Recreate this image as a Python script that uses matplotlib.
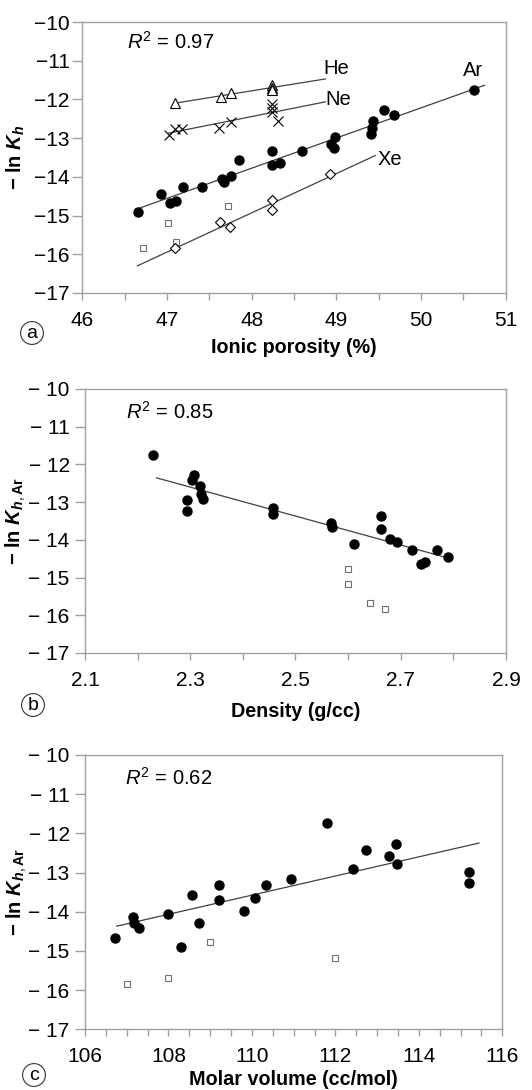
import numpy as np
import matplotlib
matplotlib.use("Agg")
import matplotlib.pyplot as plt

plt.rcParams['font.family'] = ['Liberation Sans', 'DejaVu Sans']
plt.rcParams['mathtext.fontset'] = 'custom'
plt.rcParams['mathtext.rm'] = 'Liberation Sans'
plt.rcParams['mathtext.it'] = 'Liberation Sans:italic'
plt.rcParams['mathtext.bf'] = 'Liberation Sans:bold'
plt.rcParams['mathtext.bfit'] = 'Liberation Sans:italic:bold'

# ---------------- Panel a data: ionic porosity (%) vs -ln Kh ----------------
ar_por = [46.66, 46.93, 47.04, 47.11, 47.19, 47.41, 47.65, 47.67, 47.76, 47.85,
          48.24, 48.24, 48.33, 48.59, 48.94, 48.97, 48.98, 49.41, 49.42, 49.43,
          49.56, 49.68, 50.63]
ar_lnk = [-14.90, -14.43, -14.67, -14.62, -14.25, -14.25, -14.06, -14.14, -13.98, -13.57,
          -13.33, -13.70, -13.64, -13.33, -13.15, -13.26, -12.96, -12.89, -12.75, -12.56,
          -12.27, -12.39, -11.76]
he_por = [47.10, 47.64, 47.76, 48.24, 48.24, 48.24]
he_lnk = [-12.08, -11.95, -11.84, -11.62, -11.70, -11.75]
ne_por = [47.02, 47.10, 47.18, 47.62, 47.76, 48.24, 48.24, 48.24, 48.31]
ne_lnk = [-12.91, -12.76, -12.76, -12.73, -12.59, -12.13, -12.23, -12.32, -12.55]
xe_por = [47.10, 47.63, 47.75, 48.24, 48.24, 48.93]
xe_lnk = [-15.83, -15.17, -15.30, -14.60, -14.86, -13.93]
sq_por = [46.72, 47.01, 47.11, 47.72]
sq_lnk = [-15.84, -15.19, -15.67, -14.74]

# ---------------- Panel b data: density (g/cc) vs -ln Kh,Ar ----------------
ar_den = [2.230, 2.308, 2.303, 2.318, 2.320, 2.325, 2.293, 2.293, 2.458, 2.457,
          2.567, 2.570, 2.662, 2.662, 2.612, 2.680, 2.692, 2.722, 2.768, 2.790,
          2.738, 2.746]
ar_lnk_b = [-11.75, -12.29, -12.40, -12.58, -12.78, -12.92, -12.95, -13.24, -13.15, -13.32,
            -13.56, -13.67, -13.36, -13.70, -14.10, -13.99, -14.07, -14.28, -14.28, -14.45,
            -14.65, -14.60]
sq_den = [2.600, 2.600, 2.641, 2.670]
sq_lnk_b = [-14.78, -15.18, -15.68, -15.84]

# ---------------- Panel c data: molar volume (cc/mol) vs -ln Kh,Ar ----------------
ar_mv = [106.72, 107.14, 107.18, 107.29, 108.00, 108.30, 108.56, 108.72, 109.20, 109.20,
         109.81, 110.07, 110.33, 110.93, 111.79, 112.73, 112.43, 113.29, 113.45, 113.48,
         115.20, 115.20]
ar_lnk_c = [-14.66, -14.13, -14.30, -14.42, -14.06, -14.90, -13.58, -14.30, -13.33, -13.70,
            -13.98, -13.66, -13.33, -13.17, -11.74, -12.42, -12.90, -12.59, -12.26, -12.79,
            -12.99, -13.27]
sq_mv = [107.0, 108.0, 109.0, 112.0]
sq_lnk_c = [-15.85, -15.70, -14.77, -15.18]

yticks = [-10, -11, -12, -13, -14, -15, -16, -17]
ytick_labels_a = ['\u221210', '\u221211', '\u221212', '\u221213', '\u221214', '\u221215', '\u221216', '\u221217']
ytick_labels_bc = ['\u2212 10', '\u2212 11', '\u2212 12', '\u2212 13', '\u2212 14', '\u2212 15', '\u2212 16', '\u2212 17']

W, H = 532, 1090
fig = plt.figure(figsize=(W / 100, H / 100), dpi=100)

def axes_px(l, r, t, b):
    return fig.add_axes([l / W, 1 - b / H, (r - l) / W, (b - t) / H])

ax_a = axes_px(82.3, 505.7, 22, 293)
ax_b = axes_px(85, 506, 389, 653)
ax_c = axes_px(85, 502.3, 755, 1029.3)

SPINE = '#a0a0a0'
LINE = '#404040'
TXT = 14.5

def style(ax, xlim, xmajor, xminor, ylabels, ypad):
    ax.set_xlim(*xlim)
    ax.set_ylim(-17, -10)
    ax.set_xticks(xmajor)
    ax.set_xticks(xminor, minor=True)
    ax.set_yticks(yticks)
    ax.set_yticklabels(ylabels)
    for s in ax.spines.values():
        s.set_color(SPINE)
        s.set_linewidth(1.0)
    ax.tick_params(axis='x', which='both', direction='out', length=5, width=1,
                   color=SPINE, labelsize=15, pad=8)
    ax.tick_params(axis='y', which='major', direction='out', length=7, width=1,
                   color=SPINE, labelsize=15, pad=ypad)
    ax.tick_params(axis='x', which='minor', labelbottom=False)

def fit_line(ax, x, y, x0, x1):
    k, c = np.polyfit(x, y, 1)
    xs = np.array([x0, x1])
    ax.plot(xs, k * xs + c, color=LINE, lw=0.9, zorder=1)

# ---- Panel a ----
style(ax_a, (46, 51), [46, 47, 48, 49, 50, 51], np.arange(46, 51.01, 0.5), ytick_labels_a, 2)
fit_line(ax_a, he_por, he_lnk, 47.08, 48.87)
fit_line(ax_a, ne_por, ne_lnk, 47.02, 48.87)
fit_line(ax_a, ar_por, ar_lnk, 46.66, 50.75)
fit_line(ax_a, xe_por, xe_lnk, 46.65, 49.46)
ax_a.plot(ar_por, ar_lnk, 'o', ms=6.5, color='black', zorder=3)
ax_a.plot(he_por, he_lnk, '^', ms=7.5, mfc='white', mec='black', mew=0.8, zorder=3)
ax_a.plot(ne_por, ne_lnk, 'x', ms=7.5, color='black', mew=0.8, zorder=3)
ax_a.plot(xe_por, xe_lnk, 'D', ms=5.5, mfc='white', mec='black', mew=0.8, zorder=3)
ax_a.plot(sq_por, sq_lnk, 's', ms=4.5, mfc='white', mec='#707070', mew=0.8, zorder=2)
for lbl, x, y in [('He', 48.85, -11.19), ('Ne', 48.87, -11.99), ('Ar', 50.50, -11.24), ('Xe', 49.49, -13.54)]:
    ax_a.text(x, y, lbl, fontsize=TXT, ha='left', va='center')
ax_a.text(0.106, 0.926, r'$R^2$ = 0.97', transform=ax_a.transAxes, fontsize=TXT, ha='left', va='center')
ax_a.set_xlabel('Ionic porosity (%)', fontsize=14.2, fontweight='bold')
ax_a.xaxis.set_label_coords(0.5, -0.165)
ax_a.set_ylabel('\u2212 ln ' + r'$\mathbfit{K}_{\mathbfit{h}}$', fontsize=14.5, fontweight='bold')
ax_a.yaxis.set_label_coords(-0.13, 0.5)

# ---- Panel b ----
style(ax_b, (2.1, 2.9), [2.1, 2.3, 2.5, 2.7, 2.9], np.arange(2.1, 2.901, 0.1), ytick_labels_bc, 4)
fit_line(ax_b, ar_den, ar_lnk_b, 2.236, 2.781)
ax_b.plot(ar_den, ar_lnk_b, 'o', ms=6.5, color='black', zorder=3)
ax_b.plot(sq_den, sq_lnk_b, 's', ms=4.5, mfc='white', mec='#707070', mew=0.8, zorder=2)
ax_b.text(0.097, 0.914, r'$R^2$ = 0.85', transform=ax_b.transAxes, fontsize=TXT, ha='left', va='center')
ax_b.set_xlabel('Density (g/cc)', fontsize=14.2, fontweight='bold')
ax_b.xaxis.set_label_coords(0.5, -0.185)
ax_b.set_ylabel('\u2212 ln ' + r'$\mathbfit{K}_{\mathbfit{h},\mathbf{Ar}}$', fontsize=14.5, fontweight='bold')
ax_b.yaxis.set_label_coords(-0.135, 0.5)

# ---- Panel c ----
style(ax_c, (106, 116), [106, 108, 110, 112, 114, 116], np.arange(106, 116.01, 0.5), ytick_labels_bc, 4)
fit_line(ax_c, ar_mv, ar_lnk_c, 106.76, 115.44)
ax_c.plot(ar_mv, ar_lnk_c, 'o', ms=6.5, color='black', zorder=3)
ax_c.plot(sq_mv, sq_lnk_c, 's', ms=4.5, mfc='white', mec='#707070', mew=0.8, zorder=2)
ax_c.text(0.096, 0.915, r'$R^2$ = 0.62', transform=ax_c.transAxes, fontsize=TXT, ha='left', va='center')
ax_c.set_xlabel('Molar volume (cc/mol)', fontsize=14.2, fontweight='bold')
ax_c.xaxis.set_label_coords(0.5, -0.148)
ax_c.set_ylabel('\u2212 ln ' + r'$\mathbfit{K}_{\mathbfit{h},\mathbf{Ar}}$', fontsize=14.5, fontweight='bold')
ax_c.yaxis.set_label_coords(-0.135, 0.5)

# circled panel letters
for lbl, cx, cy in [('a', 32, 333), ('b', 33, 705), ('c', 34, 1075)]:
    fig.text(cx / W, 1 - cy / H, lbl, fontsize=14, ha='center', va='center',
             bbox=dict(boxstyle='circle,pad=0.15', fc='white', ec='#333333', lw=0.8))

fig.savefig('out.png', dpi=100, facecolor='white')
